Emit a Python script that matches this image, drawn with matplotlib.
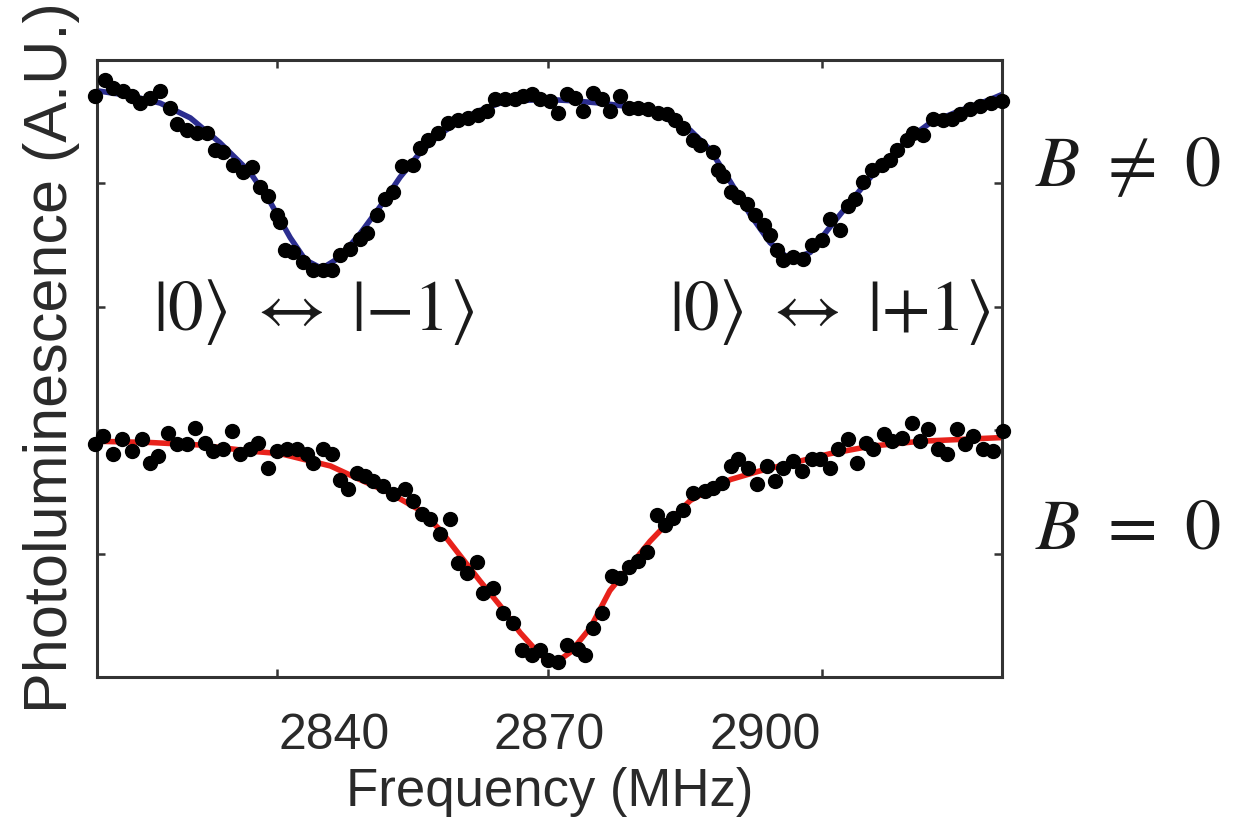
import matplotlib
matplotlib.use('Agg')
import matplotlib.pyplot as plt

plt.rcParams['font.family'] = ['Liberation Sans', 'DejaVu Sans']
plt.rcParams['mathtext.fontset'] = 'stix'

# B != 0 data points (frequency in MHz, PL in arbitrary units)
freq_b = [2806.7, 2808.1, 2809.2, 2810.6, 2811.9, 2813.0, 2814.4, 2815.8, 2817.2, 2818.1,
          2819.5, 2820.9, 2822.3, 2823.4, 2824.5, 2825.9, 2827.3, 2828.6, 2829.7, 2830.8,
          2832.1, 2832.5, 2833.2, 2834.3, 2835.7, 2837.1, 2838.5, 2839.7, 2840.8, 2842.2,
          2843.6, 2844.6, 2846.0, 2847.1, 2848.2, 2849.4, 2851.0, 2852.0, 2853.1, 2854.5,
          2855.9, 2857.3, 2858.7, 2860.1, 2861.3, 2862.4, 2863.8, 2865.2, 2866.3, 2867.6,
          2868.7, 2870.1, 2871.2, 2872.5, 2873.6, 2874.7, 2876.1, 2877.3, 2878.4, 2879.8,
          2881.0, 2882.3, 2883.7, 2885.1, 2886.4, 2887.5, 2888.6, 2890.0, 2891.0, 2892.7,
          2893.4, 2894.2, 2895.2, 2896.3, 2897.5, 2898.6, 2899.8, 2900.7, 2901.7, 2902.5,
          2903.9, 2905.3, 2906.6, 2908.0, 2909.1, 2910.5, 2911.5, 2912.6, 2913.7, 2914.9,
          2916.3, 2917.4, 2918.4, 2919.8, 2920.6, 2922.0, 2923.4, 2924.8, 2926.1, 2927.2,
          2928.6, 2930.0, 2931.4, 2933.0]
pl_b = [4.71, 4.84, 4.77, 4.75, 4.71, 4.65, 4.69, 4.75, 4.61, 4.48,
        4.43, 4.41, 4.41, 4.27, 4.25, 4.15, 4.09, 4.13, 3.97, 3.90,
        3.74, 3.69, 3.46, 3.44, 3.36, 3.30, 3.30, 3.30, 3.42, 3.47,
        3.55, 3.60, 3.74, 3.87, 3.93, 4.14, 4.15, 4.29, 4.35, 4.41,
        4.49, 4.51, 4.53, 4.55, 4.59, 4.68, 4.68, 4.68, 4.71, 4.72,
        4.68, 4.67, 4.57, 4.72, 4.69, 4.59, 4.73, 4.68, 4.59, 4.71,
        4.61, 4.61, 4.60, 4.57, 4.56, 4.51, 4.45, 4.35, 4.31, 4.25,
        4.11, 4.06, 3.93, 3.89, 3.83, 3.74, 3.66, 3.58, 3.46, 3.38,
        3.40, 3.39, 3.50, 3.54, 3.71, 3.62, 3.82, 3.87, 4.01, 4.11,
        4.15, 4.19, 4.27, 4.35, 4.41, 4.39, 4.52, 4.51, 4.52, 4.56,
        4.60, 4.63, 4.65, 4.67]

# B != 0 fit curve
fit_freq_b = [2807.0, 2811.6, 2815.8, 2820.0, 2824.1, 2828.3, 2831.1, 2833.9, 2836.0, 2838.3,
              2840.8, 2843.6, 2846.4, 2849.2, 2852.0, 2854.8, 2857.6, 2860.3, 2863.1, 2865.9,
              2869.4, 2872.9, 2877.1, 2881.2, 2885.4, 2889.6, 2892.4, 2895.2, 2897.9, 2900.7,
              2903.5, 2906.3, 2909.1, 2911.9, 2914.7, 2917.4, 2920.2, 2923.0, 2927.2, 2931.4,
              2933.0]
fit_pl_b = [4.75, 4.71, 4.65, 4.53, 4.33, 4.09, 3.85, 3.56, 3.38, 3.31,
            3.40, 3.59, 3.81, 4.05, 4.25, 4.40, 4.51, 4.59, 4.65, 4.67,
            4.68, 4.67, 4.65, 4.62, 4.55, 4.43, 4.27, 4.01, 3.75, 3.52,
            3.38, 3.44, 3.65, 3.85, 4.05, 4.21, 4.37, 4.49, 4.59, 4.68,
            4.72]

# B = 0 data points
freq_0 = [2806.7, 2807.8, 2809.2, 2810.5, 2811.9, 2813.3, 2814.4, 2815.5, 2816.9, 2818.1,
          2819.5, 2820.6, 2822.0, 2823.2, 2824.5, 2825.8, 2826.9, 2828.3, 2829.4, 2830.8,
          2832.1, 2833.5, 2834.9, 2836.2, 2837.1, 2838.5, 2839.7, 2840.8, 2842.0, 2843.2,
          2844.3, 2845.4, 2846.8, 2848.2, 2849.9, 2851.0, 2852.3, 2853.4, 2854.8, 2856.2,
          2857.3, 2858.5, 2859.9, 2860.8, 2862.2, 2863.5, 2864.9, 2866.2, 2867.6, 2868.7,
          2869.8, 2871.2, 2872.5, 2873.9, 2875.0, 2876.1, 2877.3, 2878.7, 2879.8, 2881.0,
          2882.3, 2883.6, 2885.0, 2886.1, 2887.2, 2888.6, 2890.0, 2891.7, 2892.8, 2894.0,
          2895.2, 2896.3, 2897.7, 2898.9, 2900.3, 2901.4, 2902.5, 2903.9, 2905.2, 2906.6,
          2907.7, 2909.1, 2910.2, 2911.6, 2912.8, 2914.0, 2915.1, 2916.5, 2917.7, 2919.1,
          2920.5, 2921.6, 2922.7, 2924.1, 2925.4, 2926.8, 2927.9, 2929.0, 2930.4, 2931.8,
          2933.2]
pl_0 = [1.89, 1.95, 1.81, 1.93, 1.83, 1.93, 1.73, 1.79, 1.98, 1.89,
        1.89, 2.02, 1.90, 1.83, 1.85, 1.99, 1.81, 1.85, 1.90, 1.69,
        1.83, 1.85, 1.85, 1.81, 1.73, 1.85, 1.81, 1.60, 1.52, 1.65,
        1.63, 1.59, 1.55, 1.48, 1.52, 1.43, 1.32, 1.28, 1.16, 1.28,
        0.92, 0.84, 0.93, 0.68, 0.72, 0.52, 0.44, 0.22, 0.18, 0.22,
        0.14, 0.12, 0.26, 0.23, 0.18, 0.40, 0.52, 0.82, 0.80, 0.89,
        0.94, 1.01, 1.31, 1.23, 1.29, 1.35, 1.49, 1.51, 1.53, 1.57,
        1.71, 1.77, 1.69, 1.56, 1.71, 1.59, 1.69, 1.75, 1.67, 1.77,
        1.77, 1.69, 1.85, 1.93, 1.73, 1.90, 1.85, 1.97, 1.91, 1.94,
        2.06, 1.91, 2.01, 1.85, 1.81, 2.01, 1.89, 1.95, 1.85, 1.83,
        1.99]

# B = 0 fit curve
fit_freq_0 = [2807.0, 2814.4, 2821.3, 2828.3, 2832.5, 2835.3, 2839.5, 2843.6, 2847.8, 2852.0,
              2854.8, 2857.6, 2860.3, 2863.1, 2865.9, 2868.7, 2870.7, 2872.9, 2875.7, 2878.4,
              2881.2, 2884.0, 2886.8, 2889.6, 2892.4, 2895.2, 2899.3, 2903.5, 2909.1, 2914.7,
              2921.6, 2933.0]
fit_pl_0 = [1.91, 1.90, 1.88, 1.83, 1.81, 1.77, 1.71, 1.60, 1.49, 1.35,
            1.19, 0.98, 0.78, 0.58, 0.36, 0.18, 0.11, 0.20, 0.40, 0.70,
            0.90, 1.10, 1.27, 1.43, 1.52, 1.60, 1.67, 1.73, 1.81, 1.87,
            1.91, 1.94]

xtick_labels = [2840, 2870, 2900]
xtick_marks = [2832.1, 2869.8, 2908.0]
ytick_marks = [1, 2, 3, 4]

fig = plt.figure(figsize=(12.53, 8.32), dpi=100)
ax = fig.add_axes([0.0774, 0.1863, 0.7223, 0.7417])

ax.plot(fit_freq_b, fit_pl_b, color='#2b2d8f', lw=4, zorder=2)
ax.plot(fit_freq_0, fit_pl_0, color='#e8221b', lw=4, zorder=2)
ax.plot(freq_b, pl_b, 'o', color='black', ms=10, zorder=3, clip_on=False)
ax.plot(freq_0, pl_0, 'o', color='black', ms=10, zorder=3, clip_on=False)

ax.set_xlim(2807, 2933)
ax.set_ylim(0, 5)

ax.set_xticks(xtick_labels)
ax.set_xticklabels([str(v) for v in xtick_labels])
ax.set_xticks(xtick_marks, minor=True)
ax.set_yticks(ytick_marks)
ax.set_yticklabels([])
ax.tick_params(axis='x', which='major', length=0, pad=26, labelsize=36, labelcolor='#2a2a2a')
ax.tick_params(axis='x', which='minor', direction='in', length=6, width=1.8,
               top=True, bottom=True, color='#333333')
ax.tick_params(axis='y', which='major', direction='in', length=6, width=1.8,
               left=True, right=True, color='#333333')
for s in ax.spines.values():
    s.set_linewidth(2.2)
    s.set_color('#333333')

ax.set_xlabel('Frequency (MHz)', fontsize=38, color='#2a2a2a', labelpad=6)
fig.text(52 / 1253, 1 - 358 / 832, 'Photoluminescence (A.U.)', rotation=90,
         ha='center', va='center', fontsize=44, color='#2a2a2a')

ax.text(2837.2, 2.96, r'$|0\rangle\ \leftrightarrow\ |{-}1\rangle$', fontsize=51,
        ha='center', va='center', color='#1a1a1a')
ax.text(2909.0, 2.96, r'$|0\rangle\ \leftrightarrow\ |{+}1\rangle$', fontsize=51,
        ha='center', va='center', color='#1a1a1a')

fig.text(0.826, 0.798, r'$B\ \neq\ 0$', fontsize=52, ha='left', va='center', color='#1a1a1a')
fig.text(0.826, 0.363, r'$B\ =\ 0$', fontsize=52, ha='left', va='center', color='#1a1a1a')

fig.savefig('out.png', dpi=100, facecolor='white')
